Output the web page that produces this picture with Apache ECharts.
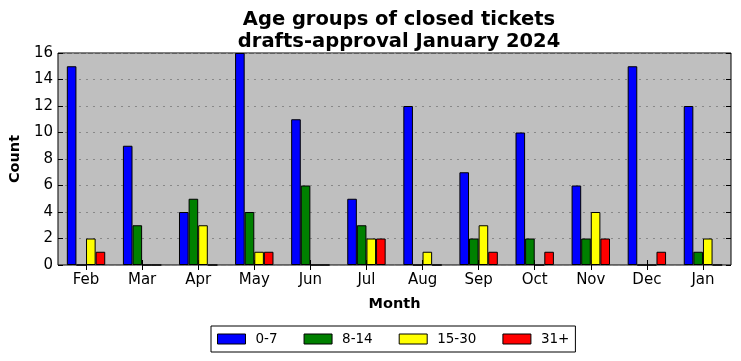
<!DOCTYPE html>
<html><head><meta charset="utf-8">
<script src="https://cdn.jsdelivr.net/npm/echarts@6/dist/echarts.min.js"></script>
<style>html,body{margin:0;padding:0;background:#fff}#c{width:741px;height:361px}</style>
</head><body><div id="c"></div>
<script>
const months = ['Feb','Mar','Apr','May','Jun','Jul','Aug','Sep','Oct','Nov','Dec','Jan'];
const seriesNames = ['0-7','8-14','15-30','31+'];
const age0to7   = [15, 9, 4, 16, 11, 5, 12, 7, 10, 6, 15, 12];
const age8to14  = [0, 3, 5, 4, 6, 3, 0, 2, 2, 2, 0, 1];
const age15to30 = [2, 0, 3, 1, 0, 2, 1, 3, 0, 4, 0, 2];
const age31plus = [1, 0, 0, 1, 0, 2, 0, 1, 1, 2, 1, 0];
const yTicks = [0, 2, 4, 6, 8, 10, 12, 14, 16];
const colors = ['#0000ff', '#008000', '#ffff00', '#ff0000'];
const allData = [age0to7, age8to14, age15to30, age31plus];

const FONT = 'DejaVu Sans';
const chart = echarts.init(document.getElementById('c'), null, {renderer: 'canvas'});
chart.setOption({
  animation: false,
  textStyle: {fontFamily: FONT},
  title: {
    text: 'Age groups of closed tickets\ndrafts-approval January 2024',
    left: 394, top: 4, textAlign: 'center',
    textStyle: {fontFamily: FONT, fontSize: 19.5, fontWeight: 'bold', color: '#000', lineHeight: 22}
  },
  legend: {
    data: seriesNames,
    left: 211, top: 326,
    itemWidth: 28, itemHeight: 10, itemGap: 26,
    borderColor: '#000', borderWidth: 1, borderRadius: 0,
    padding: [6, 6, 6, 6],
    icon: 'rect',
    itemStyle: {borderColor: '#000', borderWidth: 1},
    textStyle: {fontFamily: FONT, fontSize: 13.5, color: '#000', padding: [0, 0, 0, 5]}
  },
  grid: {left: 57, right: 10, top: 53, bottom: 96, show: true,
         backgroundColor: '#bfbfbf', borderColor: '#000', borderWidth: 1},
  xAxis: [{
    type: 'category', data: months,
    name: 'Month', nameLocation: 'middle', nameGap: 32,
    nameTextStyle: {fontFamily: FONT, fontSize: 14.5, fontWeight: 'bold', color: '#000'},
    axisLine: {show: false},
    axisTick: {show: true, inside: true, alignWithLabel: true, length: 5, lineStyle: {color: '#000'}},
    axisLabel: {fontFamily: FONT, fontSize: 15, color: '#000', margin: 8},
    splitLine: {show: false}
  }, {
    type: 'category', data: months, position: 'top',
    axisLine: {show: false},
    axisTick: {show: true, inside: true, alignWithLabel: true, length: 5, lineStyle: {color: '#000'}},
    axisLabel: {show: false}, splitLine: {show: false}
  }],
  yAxis: [{
    type: 'value', min: yTicks[0], max: yTicks[yTicks.length - 1], interval: 2,
    name: 'Count', nameLocation: 'middle', nameGap: 31, nameRotate: 90,
    nameTextStyle: {fontFamily: FONT, fontSize: 14.5, fontWeight: 'bold', color: '#000'},
    axisLine: {show: false},
    axisTick: {show: true, inside: true, length: 5, lineStyle: {color: '#000'}},
    axisLabel: {fontFamily: FONT, fontSize: 15, color: '#000', margin: 5},
    splitLine: {show: true, lineStyle: {color: '#888', type: [2, 5], width: 1}}
  }, {
    type: 'value', min: yTicks[0], max: yTicks[yTicks.length - 1], interval: 2, position: 'right',
    axisLine: {show: false},
    axisTick: {show: true, inside: true, length: 5, lineStyle: {color: '#000'}},
    axisLabel: {show: false}, splitLine: {show: false}
  }],
  series: seriesNames.map((n, i) => ({
    name: n, type: 'bar', data: allData[i],
    xAxisIndex: 0, yAxisIndex: 0,
    barWidth: 9.6, barGap: '0%',
    itemStyle: {color: colors[i], borderColor: '#000', borderWidth: 1}
  }))
});
</script></body></html>
